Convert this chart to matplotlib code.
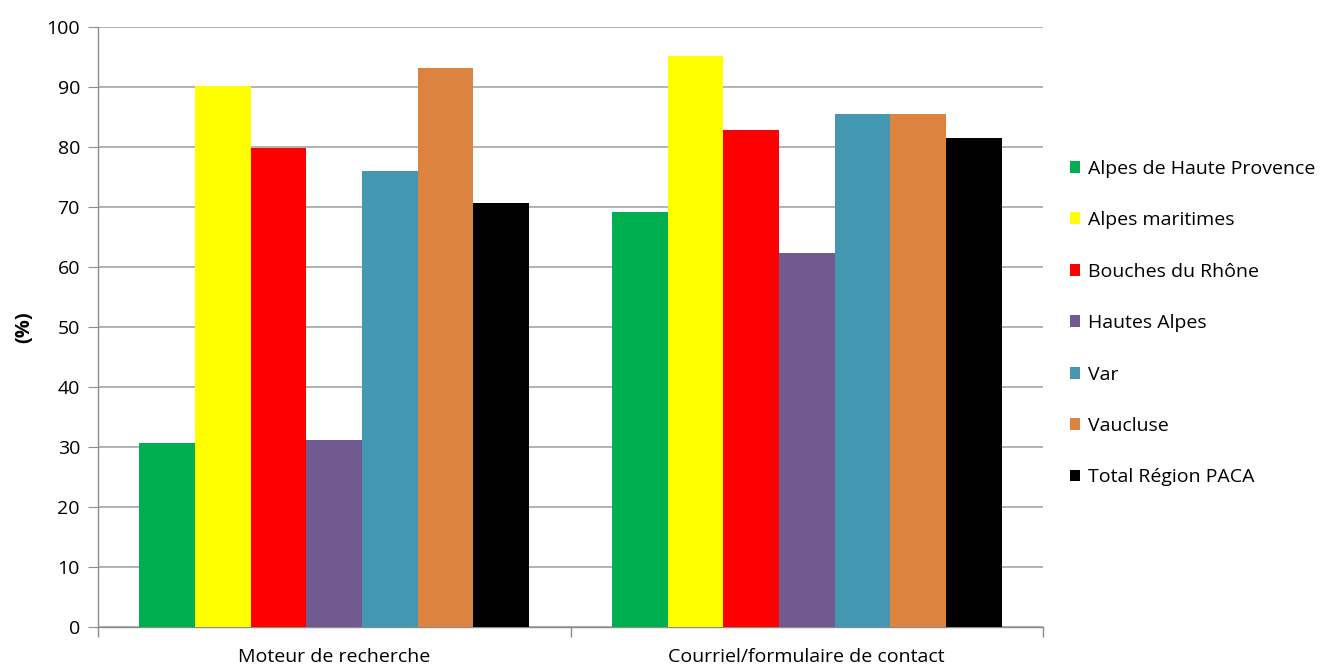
import numpy as np
import matplotlib.pyplot as plt
from matplotlib.patches import Patch

plt.rcParams['font.family'] = ['Open Sans', 'DejaVu Sans']

# Data
categories = ['Moteur de recherche', 'Courriel/formulaire de contact']
series_names = ['Alpes de Haute Provence', 'Alpes maritimes', 'Bouches du Rhône',
                'Hautes Alpes', 'Var', 'Vaucluse', 'Total Région PACA']
alpes_haute_provence = [30.7, 69.2]
alpes_maritimes = [90.1, 95.2]
bouches_du_rhone = [79.9, 82.8]
hautes_alpes = [31.1, 62.4]
var = [76.0, 85.5]
vaucluse = [93.1, 85.5]
total_paca = [70.7, 81.5]
values = [alpes_haute_provence, alpes_maritimes, bouches_du_rhone,
          hautes_alpes, var, vaucluse, total_paca]
colors = ['#00b050', '#ffff00', '#ff0000', '#72598f', '#4397b0', '#dc843f', '#000000']

fig = plt.figure(figsize=(13.2, 6.7), dpi=100)
ax = fig.add_axes([98 / 1320, 43 / 670, 945 / 1320, 600 / 670])

n = len(series_names)
group_w = 0.825
bar_w = group_w / n
x = np.arange(len(categories))
for i, (name, vals, c) in enumerate(zip(series_names, values, colors)):
    offs = -group_w / 2 + bar_w * (i + 0.5)
    ax.bar(x + offs, vals, width=bar_w, color=c, label=name, zorder=3, linewidth=0)

ax.set_xlim(-0.5, len(categories) - 0.5)
ax.set_ylim(0, 100)
ax.set_yticks(np.arange(0, 101, 10))
ax.grid(axis='y', color='#a6a6a6', linewidth=1.2, zorder=0)

# category labels centered, tick marks at category boundaries
ax.set_xticks(x)
ax.set_xticklabels(categories, fontsize=14)
ax.tick_params(axis='x', which='major', length=0, pad=15)
ax.set_xticks(np.arange(-0.5, len(categories)), minor=True)
ax.tick_params(axis='x', which='minor', length=7, color='#8c8c8c', width=1)
ax.tick_params(axis='y', length=7, color='#8c8c8c', labelsize=14, pad=6)

for s in ['top', 'right']:
    ax.spines[s].set_visible(False)
for s in ['left', 'bottom']:
    ax.spines[s].set_color('#8c8c8c')
    ax.spines[s].set_linewidth(1)

ax.set_ylabel('(%)', fontsize=14.5, fontweight='bold')
ax.yaxis.set_label_coords(-64 / 945, 0.5)

handles = [Patch(facecolor=c, edgecolor='none') for c in colors]
fig.legend(handles, series_names, loc='upper left', bbox_to_anchor=(1062 / 1320, 1 - 152 / 670),
           frameon=False, fontsize=14, handlelength=0.55, handleheight=0.55,
           handletextpad=0.4, labelspacing=1.72, borderaxespad=0)

fig.savefig('out.png', dpi=100)
